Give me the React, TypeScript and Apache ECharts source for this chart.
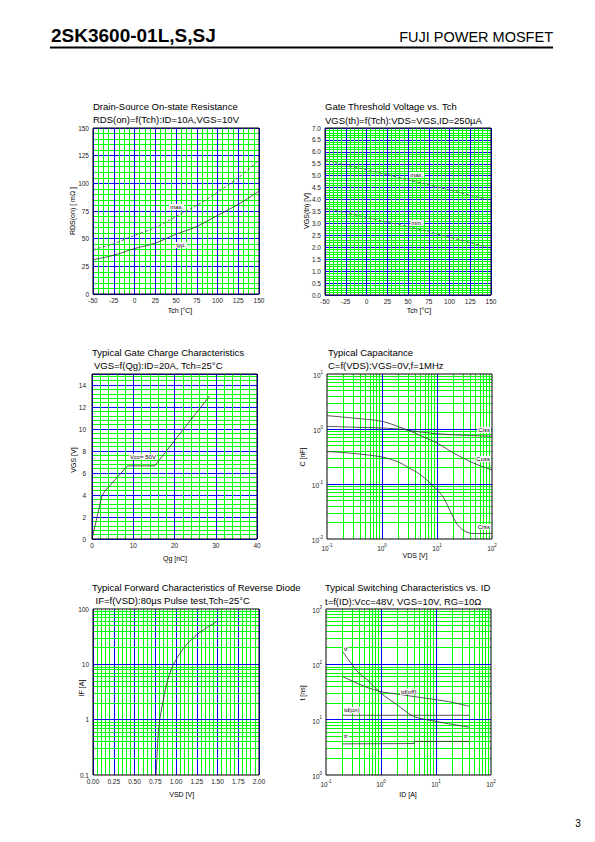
import React, { useEffect, useRef } from 'react';
import * as echarts from 'echarts';

const FONT = '"Liberation Sans", Arial, Helvetica, sans-serif';
const GREEN = '#00ff00';
const BLUE = '#0000ff';
const CURVE = '#2a2a2a';
const DASH = '#555555';

// ---- Chart 1: RDS(on) vs Tch ----
const rdsTch = [-50, -25, 0, 25, 50, 75, 100, 125, 150];
const rdsTyp = [31, 35, 41, 46, 54, 61, 71, 81, 93];
const rdsMax = [40, 45.5, 53, 60, 70, 80, 92, 105, 121];

// ---- Chart 2: VGS(th) vs Tch ----
const vthTch = [-50, -25, 0, 25, 50, 75, 100, 125, 145];
const vthMax = [5.65, 5.45, 5.25, 5.05, 4.83, 4.62, 4.4, 4.18, 4.0];
const vthMin = [3.65, 3.45, 3.25, 3.05, 2.87, 2.65, 2.42, 2.2, 2.0];

// ---- Chart 3: Gate charge ----
const qgNc = [0, 2.4, 3.0, 8.6, 15.2, 28.5];
const qgVgs = [0, 3.9, 4.3, 6.65, 6.65, 13.0];

// ---- Chart 4: Capacitance ----
const cossVds = [0.1, 0.3, 1, 2, 3.3, 5, 10, 20, 46, 100];
const cossC = [1.75, 1.58, 1.38, 1.1, 0.91, 0.76, 0.556, 0.366, 0.24, 0.18];
const cissVds = [0.1, 0.3, 1, 2.5, 3.3, 10, 30, 100];
const cissC = [1.12, 1.08, 1.04, 0.98, 0.93, 0.82, 0.77, 0.74];
const crssVds = [0.1, 0.3, 1, 2, 3, 5, 10, 13.2, 17.4, 21.5, 26.4, 35, 43, 100];
const crssC = [0.39, 0.36, 0.31, 0.25, 0.2, 0.148, 0.079, 0.056, 0.032, 0.021, 0.016, 0.0133, 0.0126, 0.0126];

// ---- Chart 5: Reverse diode ----
const diodeVsd = [0.76, 0.78, 0.8, 0.84, 0.88, 0.92, 0.97, 1.05, 1.13, 1.25, 1.38, 1.5];
const diodeIf = [0.1, 0.4, 0.9, 2, 4, 6.5, 10, 16, 23, 34, 47, 60];

// ---- Chart 6: Switching ----
const tfId = [0.2, 0.37, 0.56, 1, 1.95, 3.9, 10, 20, 40];
const tfNs = [172, 75, 53, 30, 18.7, 11.5, 9.3, 8.2, 7.3];
const tdoffId = [0.2, 0.5, 1, 2, 5, 10, 20, 40];
const tdoffNs = [60, 40, 32, 29, 25.3, 23, 20.5, 17.5];
const tdonId = [0.2, 40];
const tdonNs = [12, 12];
const trId = [0.2, 4, 4, 40];
const trNs = [3.65, 3.7, 4.05, 4.05];

const zip = (a: number[], b: number[]) => a.map((v, i) => [v, b[i]]);

const GRIDS = [
  { left: 93, top: 128, width: 166, height: 166 },
  { left: 325, top: 128, width: 166, height: 167 },
  { left: 92, top: 374, width: 165, height: 165 },
  { left: 327, top: 374, width: 165, height: 165 },
  { left: 93, top: 609, width: 166, height: 166 },
  { left: 326, top: 609, width: 165, height: 166 },
];

const tickLabel = { fontSize: 6.5, color: '#222', fontFamily: FONT };

function linAxis(gridIndex: number, min: number, max: number, interval: number, minorSplit: number, formatter?: any, margin = 3) {
  return {
    type: 'value', gridIndex, min, max, interval,
    axisLine: { show: false }, axisTick: { show: false },
    axisLabel: { ...tickLabel, margin, formatter },
    splitLine: { show: true, lineStyle: { color: BLUE, width: 1 } },
    minorTick: { show: false, splitNumber: minorSplit },
    minorSplitLine: { show: true, lineStyle: { color: GREEN, width: 1 } },
  };
}

const supFmt = (v: number) => {
  const e = Math.round(Math.log10(v));
  return `{b|10}{s|${e}}`;
};
const supRich = {
  b: { fontSize: 6.5, fontFamily: FONT, color: '#222', padding: [3, 0, 0, 0] },
  s: { fontSize: 4.5, fontFamily: FONT, color: '#222', padding: [0, 0, 4, 0] },
};

function logAxis(gridIndex: number, min: number, max: number, formatter: any, margin = 3, rich?: any) {
  return {
    type: 'log', logBase: 10, gridIndex, min, max,
    axisLine: { show: false }, axisTick: { show: false },
    splitLine: { show: false },
    axisLabel: { ...tickLabel, margin, formatter, rich },
  };
}

function decadeMinors(lo: number, hi: number) {
  const out: number[] = [];
  for (let d = lo; d < hi - 1e-12; d *= 10) {
    for (let k = 2; k <= 9; k++) out.push(+(d * k).toPrecision(3));
  }
  return out;
}
function decadeMajors(lo: number, hi: number) {
  const out: number[] = [];
  for (let d = lo * 10; d < hi * 0.99; d *= 10) out.push(+d.toPrecision(3));
  return out;
}

function gridLineSeries(idx: number, xs: number[], ys: number[], color: string) {
  return {
    type: 'line', xAxisIndex: idx, yAxisIndex: idx, data: [], silent: true, z: 1,
    markLine: {
      silent: true, symbol: ['none', 'none'], label: { show: false },
      lineStyle: { color, width: 1, type: 'solid' },
      emphasis: { disabled: true },
      data: [...xs.map((v) => ({ xAxis: v })), ...ys.map((v) => ({ yAxis: v }))],
    },
  };
}

function curve(idx: number, xs: number[], ys: number[], dashed = false, smooth: number | boolean = 0.3) {
  return {
    type: 'line', xAxisIndex: idx, yAxisIndex: idx, data: zip(xs, ys),
    symbol: 'none', showSymbol: false, smooth, silent: true, z: 10,
    lineStyle: { color: dashed ? DASH : CURVE, width: dashed ? 0.9 : 0.8, type: dashed ? [3, 2] : 'solid' },
  };
}

function txt(text: string, x: number, y: number, size: number, opts: any = {}) {
  return {
    type: 'text', x, y, z: 60, silent: true, rotation: opts.rotation || 0,
    style: {
      text, fontSize: size, fontFamily: FONT, fontWeight: opts.bold ? 'bold' : 'normal',
      fill: opts.fill || '#000', align: opts.align || 'left', verticalAlign: 'middle',
      backgroundColor: opts.bg, padding: opts.bg ? [0, 1] : 0,
    },
  };
}

function buildOption() {
  const graphics: any[] = [];
  // header
  graphics.push(txt('2SK3600-01L,S,SJ', 51, 35.5, 19, { bold: true }));
  graphics.push(txt('FUJI POWER MOSFET', 553, 37, 14.5, { align: 'right' }));
  graphics.push({ type: 'line', z: 60, shape: { x1: 50, y1: 47.5, x2: 553, y2: 47.5 }, style: { stroke: '#000', lineWidth: 2 } });
  graphics.push(txt('3', 578, 823, 10, { align: 'center' }));

  // borders
  GRIDS.forEach((g) => {
    graphics.push({ type: 'rect', z: 50, silent: true, shape: { x: g.left, y: g.top, width: g.width, height: g.height }, style: { fill: 'none', stroke: '#000', lineWidth: 1 } });
  });

  // titles
  const T = 9.5;
  graphics.push(txt('Drain-Source On-state Resistance', 93, 106.7, T));
  graphics.push(txt('RDS(on)=f(Tch):ID=10A,VGS=10V', 93, 119.7, T));
  graphics.push(txt('Gate Threshold Voltage vs. Tch', 325, 106.7, T));
  graphics.push(txt('VGS(th)=f(Tch):VDS=VGS,ID=250µA', 325, 120, T));
  graphics.push(txt('Typical Gate Charge Characteristics', 92, 352.7, T));
  graphics.push(txt('VGS=f(Qg):ID=20A, Tch=25°C', 94, 365, T));
  graphics.push(txt('Typical Capacitance', 328, 352.7, T));
  graphics.push(txt('C=f(VDS):VGS=0V,f=1MHz', 328, 365, T));
  graphics.push(txt('Typical Forward Characteristics of Reverse Diode', 92, 587.7, T));
  graphics.push(txt('IF=f(VSD):80µs Pulse test,Tch=25°C', 95.5, 600, T));
  graphics.push(txt('Typical Switching Characteristics vs. ID', 325, 587.7, T));
  graphics.push(txt('t=f(ID):Vcc=48V, VGS=10V, RG=10Ω', 325, 601, T));

  // axis names
  const N = 7;
  const R = Math.PI / 2;
  graphics.push(txt('Tch [°C]', 180, 310, N, { align: 'center' }));
  graphics.push(txt('RDS(on) [ mΩ ]', 72.7, 211, N, { align: 'center', rotation: R }));
  graphics.push(txt('Tch [°C]', 419, 310, N, { align: 'center' }));
  graphics.push(txt('VGS(th) [V]', 306, 211, N, { align: 'center', rotation: R }));
  graphics.push(txt('Qg [nC]', 175, 558, N, { align: 'center' }));
  graphics.push(txt('VGS [V]', 73.3, 460, N, { align: 'center', rotation: R }));
  graphics.push(txt('VDS [V]', 415, 555, N, { align: 'center' }));
  graphics.push(txt('C [nF]', 302, 457, N, { align: 'center', rotation: R }));
  graphics.push(txt('VSD [V]', 181.7, 794, N, { align: 'center' }));
  graphics.push(txt('IF [A]', 81, 688, N, { align: 'center', rotation: R }));
  graphics.push(txt('ID [A]', 408, 794, N, { align: 'center' }));
  graphics.push(txt('t [ns]', 302, 693, N, { align: 'center', rotation: R }));

  // curve labels
  const L = 6;
  graphics.push(txt('max.', 176.7, 207, L, { align: 'center', bg: '#fff' }));
  graphics.push(txt('typ.', 181, 245, L, { align: 'center', bg: '#fff' }));
  graphics.push(txt('max.', 416.7, 175, L, { align: 'center', bg: '#fff' }));
  graphics.push(txt('min.', 417, 223, L, { align: 'center', bg: '#fff' }));
  graphics.push(txt('Vcc= 50V', 143, 456.7, L, { align: 'center', bg: '#fff' }));
  graphics.push(txt('Ciss', 491, 430, L, { align: 'right', bg: '#fff' }));
  graphics.push(txt('Coss', 491, 459, L, { align: 'right', bg: '#fff' }));
  graphics.push(txt('Crss', 491, 527, L, { align: 'right', bg: '#fff' }));
  graphics.push(txt('tf', 343, 649, L, { bg: '#fff' }));
  graphics.push(txt('td(off)', 400, 691.7, L, { bg: '#fff' }));
  graphics.push(txt('td(on)', 343, 710, L, { bg: '#fff' }));
  graphics.push(txt('tr', 343, 736, L, { bg: '#fff' }));

  const xAxis = [
    linAxis(0, -50, 150, 25, 4),
    linAxis(1, -50, 150, 25, 5),
    linAxis(2, 0, 40, 10, 5),
    logAxis(3, 0.1, 100, supFmt, 3, supRich),
    linAxis(4, 0, 2, 0.25, 5, (v: number) => v.toFixed(2)),
    logAxis(5, 0.1, 100, supFmt, 3, supRich),
  ];
  const yAxis = [
    linAxis(0, 0, 150, 25, 5, undefined, 4),
    linAxis(1, 0, 7, 0.5, 5, (v: number) => v.toFixed(1), 4),
    linAxis(2, 0, 15, 2, 5, (v: number) => (v > 14 ? '' : String(v)), 6),
    logAxis(3, 0.01, 10, supFmt, 4, supRich),
    logAxis(4, 0.1, 100, (v: number) => String(+v.toPrecision(3)), 4),
    logAxis(5, 1, 1000, supFmt, 4, supRich),
  ];

  const series: any[] = [
    // log grid lines
    gridLineSeries(3, decadeMinors(0.1, 100), decadeMinors(0.01, 10), GREEN),
    gridLineSeries(3, decadeMajors(0.1, 100), decadeMajors(0.01, 10), BLUE),
    gridLineSeries(4, [], decadeMinors(0.1, 100), GREEN),
    gridLineSeries(4, [], decadeMajors(0.1, 100), BLUE),
    gridLineSeries(5, decadeMinors(0.1, 100), decadeMinors(1, 1000), GREEN),
    gridLineSeries(5, decadeMajors(0.1, 100), decadeMajors(1, 1000), BLUE),
    // data
    curve(0, rdsTch, rdsMax, true),
    curve(0, rdsTch, rdsTyp),
    curve(1, vthTch, vthMax, true),
    curve(1, vthTch, vthMin, true),
    curve(2, qgNc, qgVgs, false, false),
    curve(3, cossVds, cossC),
    curve(3, cissVds, cissC),
    curve(3, crssVds, crssC),
    curve(4, diodeVsd, diodeIf),
    curve(5, tfId, tfNs),
    curve(5, tdoffId, tdoffNs),
    curve(5, tdonId, tdonNs, false, false),
    curve(5, trId, trNs, false, false),
  ];

  return {
    animation: false,
    backgroundColor: '#fff',
    textStyle: { fontFamily: FONT },
    grid: GRIDS.map((g) => ({ ...g, show: false, containLabel: false })),
    xAxis,
    yAxis,
    series,
    graphic: graphics,
  };
}

export default function App() {
  const ref = useRef<HTMLDivElement>(null);
  useEffect(() => {
    if (!ref.current) return;
    const chart = echarts.init(ref.current, undefined, { renderer: 'svg' });
    chart.setOption(buildOption() as any);
    return () => chart.dispose();
  }, []);
  return (
    <div
      ref={ref}
      style={{ position: 'absolute', left: 0, top: 0, width: 595, height: 842, background: '#fff' }}
    />
  );
}
